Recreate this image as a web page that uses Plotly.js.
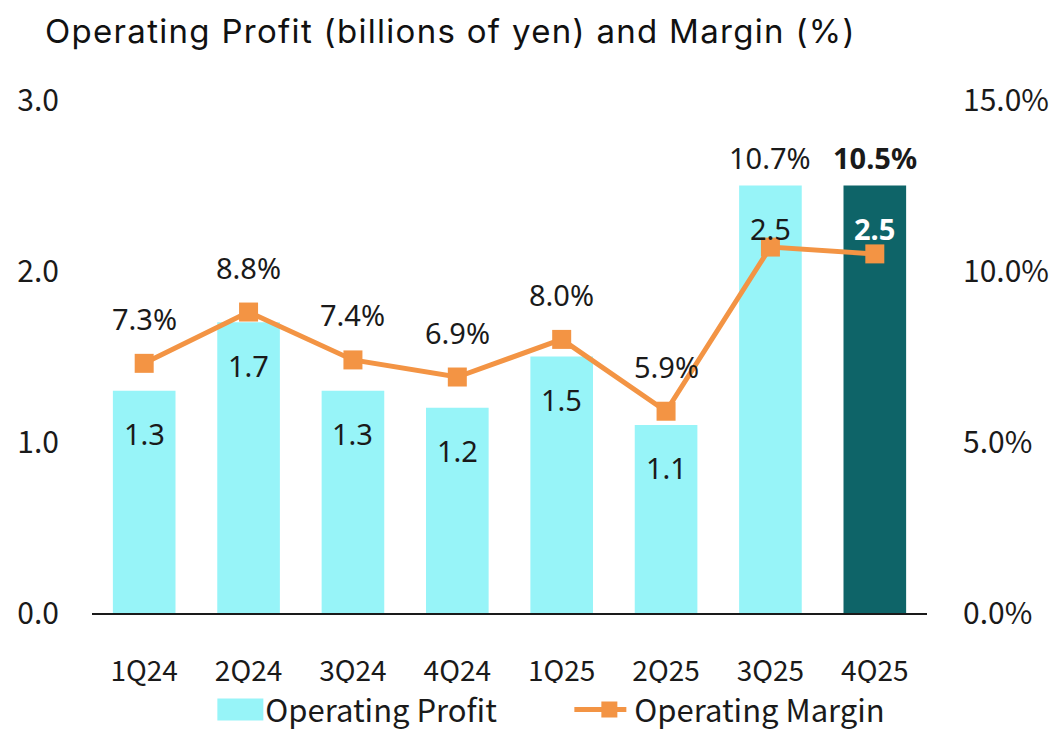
<!DOCTYPE html>
<html>
<head>
<meta charset="utf-8">
<script src="https://cdn.plot.ly/plotly-3.0.1.min.js"></script>
<style>
html,body{margin:0;padding:0;background:#fff;}
#chart{width:1051px;height:731px;}
.gtitle{letter-spacing:1.3px;}
</style>
</head>
<body>
<div id="chart"></div>
<script>
const categories = ["1Q24","2Q24","3Q24","4Q24","1Q25","2Q25","3Q25","4Q25"];
const operatingProfit = [1.3, 1.7, 1.3, 1.2, 1.5, 1.1, 2.5, 2.5];
const operatingMargin = [7.3, 8.8, 7.4, 6.9, 8.0, 5.9, 10.7, 10.5];
const leftTicks = [0, 1, 2, 3];
const rightTicks = [0, 5, 10, 15];

const last = categories.length - 1;
const barColors = categories.map((c, i) => i === last ? "#0E6468" : "#97F4F8");
const labelFont = "'Noto Sans', 'DejaVu Sans', sans-serif";
const cjkFont = "'Noto Sans CJK JP', 'Noto Sans', sans-serif";

const traces = [
  {
    type: "bar",
    name: "Operating Profit",
    x: categories,
    y: operatingProfit,
    marker: {color: barColors},
    width: 0.6,
    hoverinfo: "skip"
  },
  {
    type: "scatter",
    mode: "lines+markers",
    name: "Operating Margin",
    x: categories,
    y: operatingMargin,
    yaxis: "y2",
    line: {color: "#F39444", width: 5},
    marker: {symbol: "square", size: 19, color: "#F39444"},
    hoverinfo: "skip"
  }
];

const annotations = [];
const pxPerY2 = 513 / 15;
categories.forEach((c, i) => {
  const p = operatingProfit[i], m = operatingMargin[i];
  const bold = i === last;
  annotations.push({
    x: c, y: p, xref: "x", yref: "y",
    text: bold ? "<b>" + p.toFixed(1) + "</b>" : p.toFixed(1),
    showarrow: false, yshift: -43,
    font: {family: labelFont, size: 29, color: bold ? "#ffffff" : "#1a1a1a"}
  });
  const markerLabel = m * pxPerY2 + 45;
  const barLabel = p * 5 * pxPerY2 + 28;
  const useBar = barLabel > markerLabel;
  annotations.push({
    x: c,
    y: useBar ? p : m,
    xref: "x", yref: useBar ? "y" : "y2",
    text: bold ? "<b>" + m.toFixed(1) + "%</b>" : m.toFixed(1) + "%",
    showarrow: false,
    yshift: useBar ? 28 : 45,
    font: {family: labelFont, size: 29, color: "#1a1a1a"}
  });
});

const layout = {
  width: 1051, height: 731,
  paper_bgcolor: "#ffffff", plot_bgcolor: "#ffffff",
  margin: {l: 92, r: 124, t: 100, b: 118},
  title: {
    text: "Operating Profit (billions of yen) and Margin (%)",
    x: 0, xref: "container", xanchor: "left", y: 1, yref: "container", yanchor: "top",
    pad: {t: 20, l: 45},
    font: {family: "Inter, Lato, sans-serif", size: 33, color: "#111111"}
  },
  showlegend: true,
  legend: {
    orientation: "h", x: 0.556, xanchor: "center", xref: "container",
    y: 0.029, yanchor: "middle", yref: "container",
    font: {family: cjkFont, size: 31, color: "#1a1a1a"},
    itemwidth: 40, traceorder: "normal",
    entrywidth: 314, entrywidthmode: "pixels"
  },
  xaxis: {
    type: "category",
    range: [-0.5, 7.5],
    showline: true, linecolor: "#1a1a1a", linewidth: 2,
    showgrid: false, zeroline: false,
    ticks: "", ticklabelstandoff: 32,
    tickfont: {family: cjkFont, size: 28, color: "#1a1a1a"},
    fixedrange: true
  },
  yaxis: {
    range: [0, 3],
    tickmode: "array",
    tickvals: leftTicks,
    ticktext: leftTicks.map(v => v.toFixed(1)),
    showgrid: false, zeroline: false, showline: false,
    ticks: "", ticklabelstandoff: 32,
    tickfont: {family: cjkFont, size: 30, color: "#1a1a1a"}
  },
  yaxis2: {
    range: [0, 15],
    overlaying: "y", side: "right",
    tickmode: "array",
    tickvals: rightTicks,
    ticktext: rightTicks.map(v => v.toFixed(1) + "%"),
    showgrid: false, zeroline: false, showline: false,
    ticks: "", ticklabelstandoff: 35,
    tickfont: {family: cjkFont, size: 30, color: "#1a1a1a"}
  },
  annotations: annotations,
  bargap: 0.4
};

Plotly.newPlot("chart", traces, layout, {displayModeBar: false, staticPlot: true}).then(gd => {
  const items = gd.querySelectorAll(".legend .traces");
  if (items[0]) {
    items[0].querySelectorAll(".legendpoints path").forEach(p => {
      p.setAttribute("d", "M23,11H-23V-11H23Z");
    });
  }
  if (items[1]) {
    items[1].querySelectorAll(".legendlines path").forEach(p => {
      p.setAttribute("d", "M-10,0h52");
    });
  }
});
</script>
</body>
</html>
